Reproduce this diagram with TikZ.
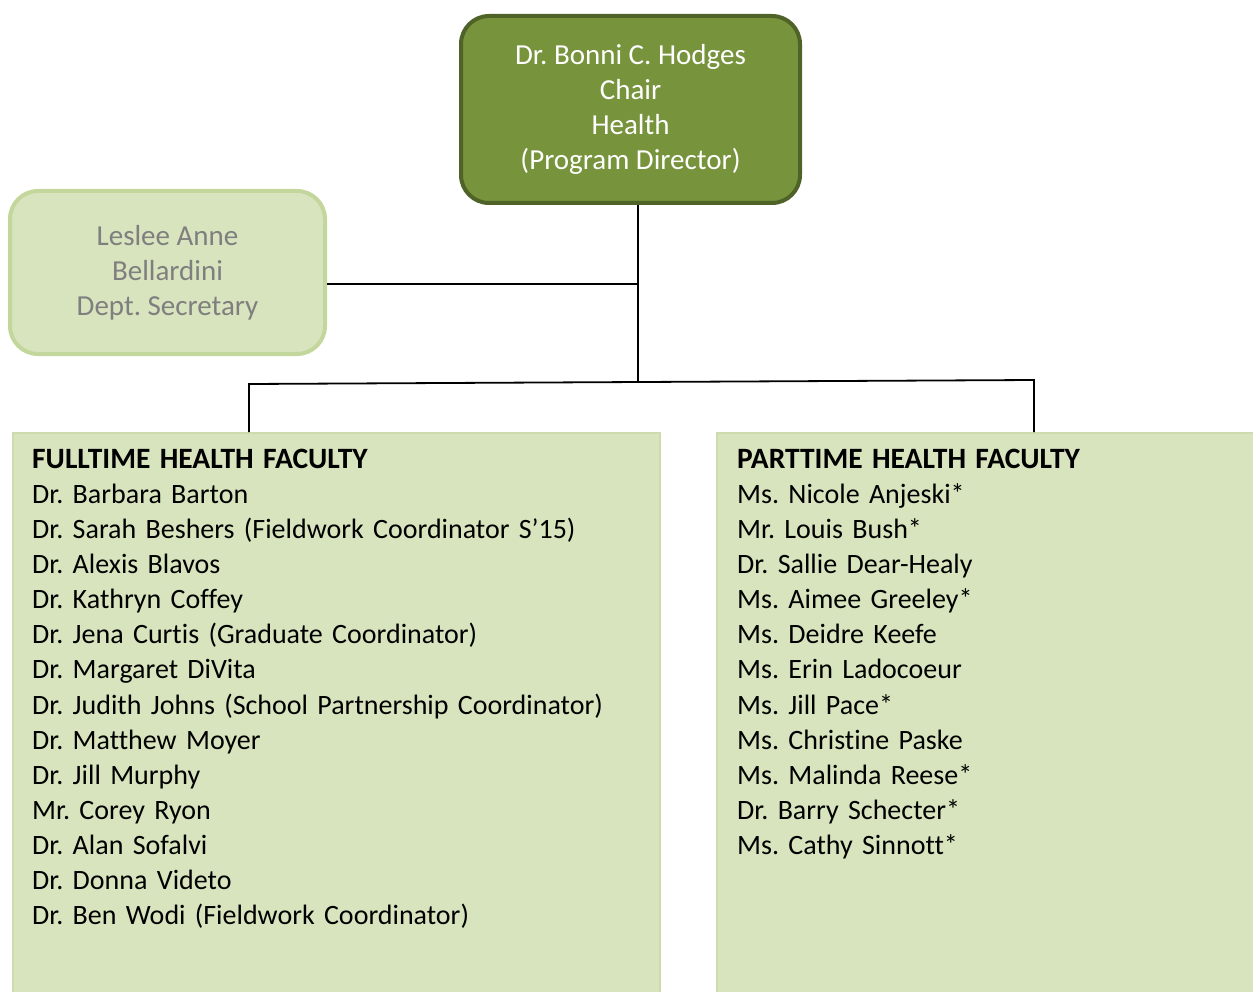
\documentclass[tikz,border=0pt]{standalone}
\usepackage{fontspec}
\setmainfont[Ligatures=NoCommon]{Carlito}
\frenchspacing
\definecolor{chairfill}{HTML}{77933C}
\definecolor{chairline}{HTML}{4F6228}
\definecolor{lightfill}{HTML}{D7E4BD}
\definecolor{lightline}{HTML}{C3D69B}
\definecolor{listedge}{HTML}{CCDCAF}
\definecolor{greytext}{HTML}{7F7F7F}
\newcommand{\listhead}[1]{{\fontsize{29.5}{35.15}\selectfont\bfseries #1}}
\begin{document}
\begin{tikzpicture}[x=1pt,y=-1pt,
  txt/.style={font=\fontsize{28}{35.15}\selectfont},
  boxtxt/.style={font=\fontsize{29}{35.15}\selectfont},
  chairbox/.style={rectangle, rounded corners=28pt, fill=chairfill, draw=chairline,
    line width=4pt, text=white, align=center, boxtxt, inner sep=0pt},
  secbox/.style={rectangle, rounded corners=28pt, fill=lightfill, draw=lightline,
    line width=4pt, text=greytext, align=center, boxtxt, inner sep=0pt},
  listbox/.style={rectangle, fill=lightfill, draw=listedge, line width=1.5pt,
    inner sep=0pt, anchor=north west},
  listtext/.style={txt, text width=600pt, align=left, inner sep=0pt, anchor=base west},
  conn/.style={draw=black, line width=1.8pt}]
\useasboundingbox (0,0) rectangle (1253,992);

% boxes
\node[chairbox, minimum width=339pt, minimum height=187pt] (chair) at (630.5,109.5)
  {Dr. Bonni C. Hodges\\ Chair\\ Health\\ (Program Director)};
\node[secbox, minimum width=315pt, minimum height=163pt] (sec) at (167.5,272.5)
  {Leslee Anne\\ Bellardini\\ Dept. Secretary};
\node[listbox, minimum width=647pt, minimum height=600pt] (ftbox) at (12,432) {};
\node[listbox, minimum width=600pt, minimum height=600pt] (ptbox) at (716,432) {};

% lists
\node[listtext] (ft) at (32,468) {\listhead{FULLTIME HEALTH FACULTY}\\
  Dr. Barbara Barton\\
  Dr. Sarah Beshers (Fieldwork Coordinator S’15)\\
  Dr. Alexis Blavos\\
  Dr. Kathryn Coffey\\
  Dr. Jena Curtis (Graduate Coordinator)\\
  Dr. Margaret DiVita\\
  Dr. Judith Johns (School Partnership Coordinator)\\
  Dr. Matthew Moyer\\
  Dr. Jill Murphy\\
  Mr. Corey Ryon\\
  Dr. Alan Sofalvi\\
  Dr. Donna Videto\\
  Dr. Ben Wodi (Fieldwork Coordinator)};
\node[listtext, text width=480pt] (pt) at (737,468) {\listhead{PARTTIME HEALTH FACULTY}\\
  Ms. Nicole Anjeski*\\
  Mr. Louis Bush*\\
  Dr. Sallie Dear-Healy\\
  Ms. Aimee Greeley*\\
  Ms. Deidre Keefe\\
  Ms. Erin Ladocoeur\\
  Ms. Jill Pace*\\
  Ms. Christine Paske\\
  Ms. Malinda Reese*\\
  Dr. Barry Schecter*\\
  Ms. Cathy Sinnott*};

% connectors
\coordinate (busM) at (638,383);
\coordinate (busL) at (249,384);
\coordinate (busR) at (1034,380);
\coordinate (secJ) at (638,284);
\draw[conn] (chair.south -| busM) -- (busM);
\draw[conn] (sec.east |- secJ) -- (secJ);
\draw[conn, line join=miter] (ftbox.north -| busL) -- (busL) -- (busR) -- (ptbox.north -| busR);
\end{tikzpicture}
\end{document}
